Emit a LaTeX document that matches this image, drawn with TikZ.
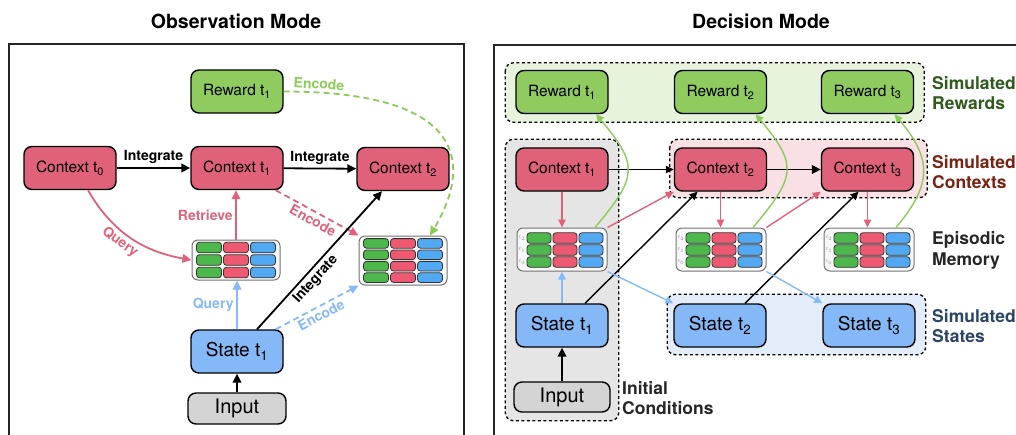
\documentclass[tikz,border=0pt]{standalone}
\usepackage{fontspec}
\setmainfont{TeX Gyre Heros}
\usetikzlibrary{arrows.meta,backgrounds,calc}

\definecolor{rewardfill}{HTML}{8FCB5E}
\definecolor{contextfill}{HTML}{DF627A}
\definecolor{statefill}{HTML}{85B8F6}
\definecolor{inputfill}{HTML}{D4D4D4}
\definecolor{cellgreen}{HTML}{4CB84C}
\definecolor{cellred}{HTML}{EE5871}
\definecolor{cellblue}{HTML}{52A9F3}
\definecolor{linkred}{HTML}{DF627A}
\definecolor{linkblue}{HTML}{86B9F5}
\definecolor{linkgreen}{HTML}{8CCB5A}
\definecolor{grpgreen}{HTML}{E8F3DE}
\definecolor{grpred}{HTML}{F8E0E4}
\definecolor{grpblue}{HTML}{E2EDF9}
\definecolor{grpgray}{HTML}{E5E5E5}
\definecolor{txtgreen}{HTML}{2F5A1C}
\definecolor{txtred}{HTML}{7A2210}
\definecolor{txtblue}{HTML}{2A4466}

\newcommand{\tsub}[1]{t\textsubscript{#1}}

% frame of an episodic memory block
\newcommand{\memblock}[5]{%
  \node[memframe, minimum width=#4pt, minimum height=#5pt] (#1) at (#2,#3) {};}

% coloured cells of a memory block:
% #1 x of first column, #2 y centre, #3 rows, #4 row pitch,
% #5 column pitch, #6 cell width, #7 cell height
\newcommand{\memcells}[7]{%
  \foreach \col [count=\k from 0] in {cellgreen,cellred,cellblue} {
    \foreach \r in {1,...,#3} {
      \pgfmathsetmacro\cx{#1+\k*#5}
      \pgfmathsetmacro\cy{#2+(\r-(#3+1)/2)*#4}
      \draw[cell, fill=\col] (\cx-#6/2,\cy-#7/2) rectangle (\cx+#6/2,\cy+#7/2);
    }
  }}

% time tags on the left of a memory block
\newcommand{\memtags}[3]{% #1 name prefix, #2 x, #3 y centre
  \foreach \r/\t in {1/2,2/1,3/0} {
    \node[memtag] (#1-\t) at (#2,#3+\r*12-24) {$t_{\t}$};
  }}

\tikzset{
  box/.style={draw=black, line width=1.4pt, rounded corners=8pt,
    minimum width=92pt, minimum height=43pt, inner sep=0pt,
    font=\fontsize{15.5}{18}\selectfont},
  reward/.style={box, fill=rewardfill},
  context/.style={box, fill=contextfill},
  state/.style={box, fill=statefill, font=\fontsize{19}{22}\selectfont},
  inputbox/.style={box, fill=inputfill, minimum width=98pt, minimum height=31pt,
    font=\fontsize{20}{23}\selectfont},
  memframe/.style={draw=black!55, line width=1pt, rounded corners=6pt, fill=black!3,
    inner sep=0pt},
  cell/.style={draw=black!80, line width=0.8pt, rounded corners=3pt},
  memtag/.style={font=\fontsize{5.5}{6}\selectfont, text=black!45, inner sep=0pt},
  flow/.style={-{Triangle[length=9pt,width=8.5pt]}, line width=1.8pt},
  thinflow/.style={-{Triangle[length=8pt,width=7.5pt]}, line width=1.4pt},
  dashedflow/.style={flow, dash pattern=on 6pt off 4pt},
  elabel/.style={font=\bfseries\fontsize{14}{16}\selectfont, inner sep=2.5pt},
  title/.style={font=\bfseries\fontsize{19.5}{23}\selectfont},
  panel/.style={draw=black!85, line width=1.5pt},
  group/.style={draw=black, line width=1.3pt, dash pattern=on 3pt off 2.5pt,
    rounded corners=8pt},
  sidelabel/.style={anchor=west, align=left, inner sep=0pt,
    font=\bfseries\fontsize{17.5}{20.5}\selectfont},
}

\begin{document}
\begin{tikzpicture}[x=1pt, y=-1pt]
\useasboundingbox (0,0) rectangle (1016,434);

% ---------------- panels and titles ----------------
\draw[panel] (9,44) rectangle (464,460);
\draw[panel] (494,45) rectangle (1040,460);
\node[title] (ttl-obs) at (236,21) {Observation Mode};
\node[title] (ttl-dec) at (761,21) {Decision Mode};

% ---------------- observation mode ----------------
\node[reward]  (rw) at (237,91.5) {Reward \tsub1};
\node[context] (c0) at (70,168)   {Context \tsub0};
\node[context] (c1) at (237,168)  {Context \tsub1};
\node[context] (c2) at (403,169)  {Context \tsub2};
\memblock{m1}{236}{260}{88}{40}
\memcells{209}{260}{3}{12.5}{27}{25}{10.5}
\memblock{m2}{403}{260.5}{88}{49}
\memcells{376}{260.5}{4}{11.4}{27}{25}{9.6}
\node[state]    (s1)  at (237,351.5) {State \tsub1};
\node[inputbox] (in1) at (237,408.5) {Input};

\draw[flow] (c0) -- (c1) node[midway, above=1pt, elabel] {Integrate};
\draw[flow] (c1) -- (c2) node[midway, above=1pt, elabel] {Integrate};
\draw[flow, linkred] ([xshift=18pt]c0.south) to[out=-60, in=170]
  node[pos=0.45, sloped, below, elabel, text=linkred] {Query} (m1.west);
\draw[flow, linkred] (m1.north) -- (m1.north |- c1.south)
  node[midway, left, elabel, text=linkred] {Retrieve};
\draw[dashedflow, linkred] ([xshift=-8pt]c1.south east) -- (m2.north west)
  node[midway, sloped, below, elabel, text=linkred] {Encode};
\draw[flow] ([xshift=20pt]s1.north) -- ([xshift=-21pt]c2.south)
  node[pos=0.41, sloped, below, elabel] {Integrate};
\draw[flow, linkblue] (s1.north) -- (s1.north |- m1.south)
  node[midway, left, elabel, text=linkblue] {Query};
\draw[dashedflow, linkblue] ([xshift=-8pt]s1.north east) -- (m2.south west)
  node[midway, sloped, below, elabel, text=linkblue] {Encode};
\draw[dashedflow, linkgreen] (rw.east) .. controls +(177,0) and +(45,-76) ..
  ([xshift=27pt]m2.north)
  node[pos=0.07, sloped, above, elabel, text=linkgreen] {Encode};
\draw[flow, line width=2.2pt] (in1) -- (s1);

% ---------------- decision mode ----------------
\node[reward] (rr1) at (562,92)   {Reward \tsub1};
\node[reward] (rr2) at (720.5,92) {Reward \tsub2};
\node[reward] (rr3) at (867.5,92) {Reward \tsub3};
\node[context] (rc1) at (562,169.5)   {Context \tsub1};
\node[context] (rc2) at (720.5,169.5) {Context \tsub2};
\node[context] (rc3) at (867.5,169.5) {Context \tsub3};
\memblock{rm1}{562}{249.5}{90}{43}
\memcells{539}{250}{3}{12}{26}{24}{10.5}
\memtags{rm1t}{522}{250}
\memblock{rm2}{721}{249.5}{90}{43}
\memcells{698}{250}{3}{12}{26}{24}{10.5}
\memtags{rm2t}{681}{250}
\memblock{rm3}{869}{249.5}{90}{43}
\memcells{846}{250}{3}{12}{26}{24}{10.5}
\memtags{rm3t}{829}{250}
\node[state] (rs1) at (562,325.5) {State \tsub1};
\node[state] (rs2) at (720,325.5) {State \tsub2};
\node[state] (rs3) at (869,325.5) {State \tsub3};
\node[inputbox, minimum width=96pt, minimum height=30pt] (rin) at (562,397) {Input};

\begin{scope}[on background layer]
  \draw[group, fill=grpgreen] ([shift={(-10,-7)}]rr1.north west)
    rectangle ([shift={(10,8)}]rr3.south east);
  \draw[group, fill=grpgray] ([shift={(-10,-8)}]rc1.north west)
    rectangle ($(rc1.east |- rin.south)+(10,8)$);
  \draw[group, fill=grpred] ([shift={(-4,-8)}]rc2.north west)
    rectangle ([shift={(13,6)}]rc3.south east);
  \draw[group, fill=grpblue] ([shift={(-6,-9)}]rs2.north west)
    rectangle ([shift={(10,7)}]rs3.south east);
\end{scope}

\draw[thinflow, line width=1.3pt] (rc1) -- (rc2);
\draw[flow] (rc2) -- (rc3);
\foreach \i in {1,2,3} {
  \draw[thinflow, linkred] (rc\i.south) -- (rc\i.south |- rm\i.north);
}
\draw[thinflow, linkblue] (rs1.north) -- (rm1.south);
\draw[thinflow, linkred] (rm1.north east) -- (rc2.south west);
\draw[thinflow, linkred] (rm2.north east) -- (rc3.south west);
\draw[thinflow, linkgreen] ([xshift=33pt]rm1.north) to[out=50, in=-50, looseness=1.5]
  ([xshift=34pt]rr1.south);
\draw[thinflow, linkgreen] ([xshift=32pt]rm2.north) to[out=50, in=-50, looseness=1.5]
  ([xshift=35pt]rr2.south);
\draw[thinflow, linkgreen] ([xshift=27pt]rm3.north) to[out=50, in=-50, looseness=1.3]
  ([xshift=27pt]rr3.south);
\draw[thinflow] ([xshift=23pt]rs1.north) -- ([xshift=-23pt]rc2.south);
\draw[thinflow] ([xshift=25pt]rs2.north) -- ([xshift=-9pt]rc3.south);
\draw[thinflow, linkblue] (rm1.south east) -- (rs2.north west);
\draw[thinflow, linkblue] (rm2.south east) -- (rs3.north west);
\draw[flow, line width=2.2pt] (rin) -- (rs1);

\node[sidelabel, text=txtgreen] (lab-rew) at (932,93)    {Simulated\\Rewards};
\node[sidelabel, text=txtred]   (lab-ctx) at (932,172)   {Simulated\\Contexts};
\node[sidelabel, text=black!85] (lab-mem) at (932,250.5) {Episodic\\Memory};
\node[sidelabel, text=txtblue]  (lab-st)  at (932,326)   {Simulated\\States};
\node[sidelabel, text=black!85] (lab-ini) at (622,398)   {Initial\\Conditions};
\end{tikzpicture}
\end{document}
